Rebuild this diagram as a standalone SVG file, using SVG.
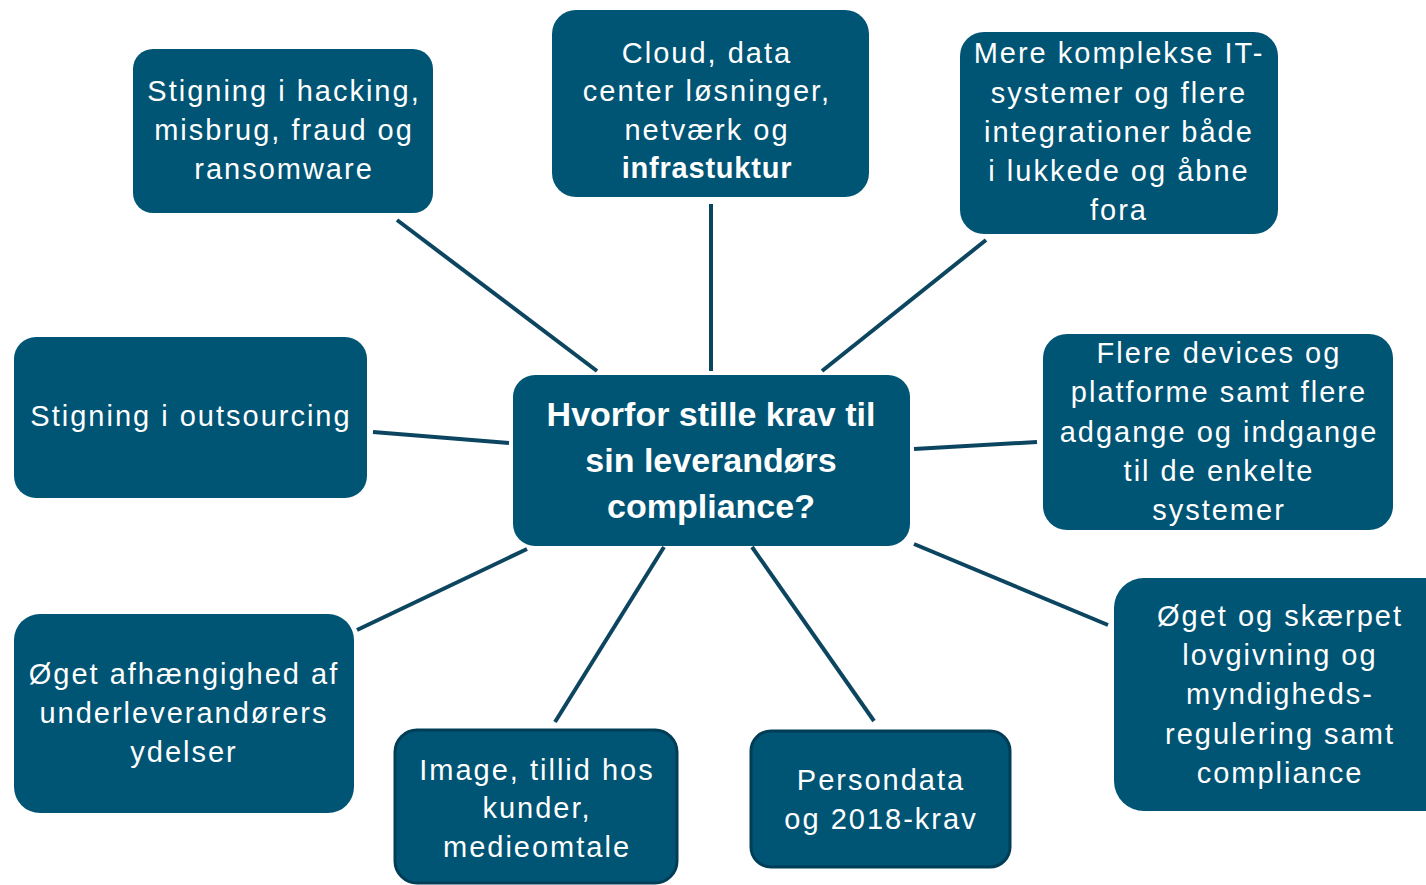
<svg xmlns="http://www.w3.org/2000/svg" width="1426" height="885" viewBox="0 0 1426 885">
<style>
.box{fill:#005474;}
.dark{stroke:#003d57;stroke-width:3;}
.t{font-family:"Liberation Sans",Arial,sans-serif;font-size:29px;fill:#ffffff;text-anchor:middle;letter-spacing:2px;}
.c{font-family:"Liberation Sans",Arial,sans-serif;font-size:34px;fill:#ffffff;text-anchor:middle;font-weight:bold;}
.b{font-weight:bold;letter-spacing:0.8px;}
.ln{stroke:#0c4560;stroke-width:4;fill:none;}
</style>
<rect width="1426" height="885" fill="#ffffff"/>
<g id="connectors">
<line class="ln" x1="397" y1="220" x2="597" y2="371"/>
<line class="ln" x1="711" y1="204" x2="711" y2="371"/>
<line class="ln" x1="986" y1="240" x2="822" y2="371"/>
<line class="ln" x1="373" y1="432" x2="509" y2="443"/>
<line class="ln" x1="914" y1="449" x2="1037" y2="442"/>
<line class="ln" x1="914" y1="544" x2="1108" y2="625"/>
<line class="ln" x1="527" y1="549" x2="357" y2="630"/>
<line class="ln" x1="664" y1="547" x2="555" y2="722"/>
<line class="ln" x1="752" y1="547" x2="874" y2="721"/>
</g>
<g id="center">
<rect class="box" x="513" y="375" width="397" height="171" rx="22"/>
<text class="c" x="711" y="426">Hvorfor stille krav til</text>
<text class="c" x="711" y="472">sin leverandørs</text>
<text class="c" x="711" y="518">compliance?</text>
</g>
<g id="hacking">
<rect class="box" x="133" y="49" width="300" height="164" rx="20"/>
<text class="t" x="284" y="101">Stigning i hacking,</text>
<text class="t" x="284" y="140">misbrug, fraud og</text>
<text class="t" x="284" y="179">ransomware</text>
</g>
<g id="cloud">
<rect class="box" x="552" y="10" width="317" height="187" rx="24"/>
<text class="t" x="707" y="63">Cloud, data</text>
<text class="t" x="707" y="101">center løsninger,</text>
<text class="t" x="707" y="140">netværk og</text>
<text class="t b" x="707" y="178">infrastuktur</text>
</g>
<g id="it-systemer">
<rect class="box" x="960" y="32" width="318" height="202" rx="24"/>
<text class="t" x="1119" y="63">Mere komplekse IT-</text>
<text class="t" x="1119" y="103">systemer og flere</text>
<text class="t" x="1119" y="142">integrationer både</text>
<text class="t" x="1119" y="181">i lukkede og åbne</text>
<text class="t" x="1119" y="220">fora</text>
</g>
<g id="outsourcing">
<rect class="box" x="14" y="337" width="353" height="161" rx="22"/>
<text class="t" x="191" y="426">Stigning i outsourcing</text>
</g>
<g id="devices">
<rect class="box" x="1043" y="334" width="350" height="196" rx="24"/>
<text class="t" x="1219" y="363">Flere devices og</text>
<text class="t" x="1219" y="402">platforme samt flere</text>
<text class="t" x="1219" y="442">adgange og indgange</text>
<text class="t" x="1219" y="481">til de enkelte</text>
<text class="t" x="1219" y="520">systemer</text>
</g>
<g id="lovgivning">
<rect class="box" x="1114" y="578" width="340" height="233" rx="30"/>
<text class="t" x="1280" y="626">Øget og skærpet</text>
<text class="t" x="1280" y="665">lovgivning og</text>
<text class="t" x="1280" y="704">myndigheds-</text>
<text class="t" x="1280" y="744">regulering samt</text>
<text class="t" x="1280" y="783">compliance</text>
</g>
<g id="underleverandoerer">
<rect class="box" x="14" y="614" width="340" height="199" rx="26"/>
<text class="t" x="184" y="684">Øget afhængighed af</text>
<text class="t" x="184" y="723">underleverandørers</text>
<text class="t" x="184" y="762">ydelser</text>
</g>
<g id="image">
<rect class="box dark" x="395" y="730" width="282" height="153" rx="22"/>
<text class="t" x="537" y="780">Image, tillid hos</text>
<text class="t" x="537" y="818">kunder,</text>
<text class="t" x="537" y="857">medieomtale</text>
</g>
<g id="persondata">
<rect class="box dark" x="751" y="731" width="259" height="136" rx="20"/>
<text class="t" x="881" y="790">Persondata</text>
<text class="t" x="881" y="829">og 2018-krav</text>
</g>
</svg>
